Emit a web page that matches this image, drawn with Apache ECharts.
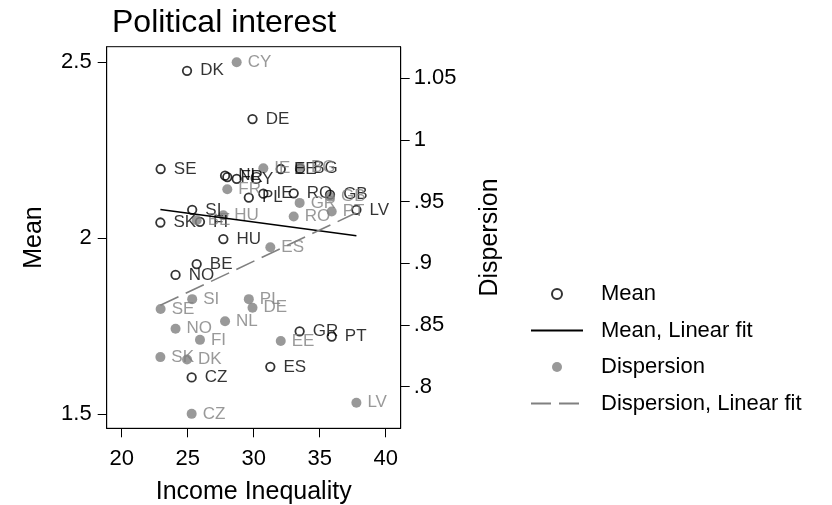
<!DOCTYPE html>
<html>
<head>
<meta charset="utf-8">
<script src="https://cdn.jsdelivr.net/npm/echarts@6/dist/echarts.min.js"></script>
<style>html,body{margin:0;padding:0;background:#fff}#c{width:832px;height:505px}</style>
</head>
<body>
<div id="c"></div>
<script>
// ---- data ----
var countries = ['BE','BG','CY','CZ','DE','DK','EE','ES','FI','FR','GB','GR','HU','IE','LV','NL','NO','PL','PT','RO','SE','SI','SK'];
var incomeInequality = [25.68,33.51,28.71,25.30,29.91,24.95,32.05,31.26,25.93,28.00,35.78,33.48,27.70,30.73,37.78,27.83,24.08,29.63,35.91,33.03,22.95,25.34,22.93];
var meanValues = [1.926,2.197,2.168,1.604,2.338,2.475,2.196,1.634,2.046,2.173,2.123,1.735,1.997,2.126,2.080,2.177,1.895,2.115,1.720,2.127,2.196,2.080,2.044];
var dispersionValues = [0.935,0.978,1.063,0.778,0.864,0.822,0.837,0.913,0.838,0.960,0.954,0.949,0.939,0.977,0.787,0.853,0.847,0.871,0.942,0.938,0.863,0.871,0.824];
// fitted lines (end points)
var meanFitX = [22.93, 37.78];
var meanFitY = [2.081, 2.0065];
var dispFitX = [22.93, 37.78];
var dispFitY = [0.866, 0.941];
var xTicks = [20, 25, 30, 35, 40];
var meanTicks = [1.5, 2, 2.5];
var dispTicks = [0.8, 0.85, 0.9, 0.95, 1, 1.05];
var dispTickLabels = ['.8', '.85', '.9', '.95', '1', '1.05'];

var FONT = "'Liberation Sans', Arial, sans-serif";
var GRAY = '#808080';

var meanData = countries.map(function (c, i) { return [incomeInequality[i], meanValues[i], c]; });
var dispData = countries.map(function (c, i) { return [incomeInequality[i], dispersionValues[i], c]; });
var meanFit = meanFitX.map(function (x, i) { return [x, meanFitY[i]]; });
var dispFit = dispFitX.map(function (x, i) { return [x, dispFitY[i]]; });

var chart = echarts.init(document.getElementById('c'), null, { renderer: 'canvas' });
chart.setOption({
  animation: false,
  backgroundColor: '#fff',
  textStyle: { fontFamily: FONT },
  title: {
    text: 'Political interest',
    left: 107, top: 2,
    textStyle: { fontFamily: FONT, fontSize: 32, fontWeight: 'normal', color: '#000' }
  },
  grid: {
    left: 106.7, right: 431.3, top: 46.7, bottom: 76.7,
    containLabel: false, outerBoundsMode: 'none',
    show: true, borderColor: '#000', borderWidth: 1, backgroundColor: 'transparent'
  },
  legend: {
    orient: 'vertical',
    left: 530, top: 283, padding: 0,
    itemWidth: 52, itemHeight: 10, itemGap: 14.5,
    textStyle: { fontFamily: FONT, fontSize: 22, color: '#000', padding: [0, 0, 0, 13] },
    data: [
      { name: 'Mean' },
      { name: 'Mean, Linear fit', itemStyle: { color: 'rgba(0,0,0,0)', borderWidth: 0, opacity: 0 } },
      { name: 'Dispersion' },
      { name: 'Dispersion, Linear fit', itemStyle: { color: 'rgba(0,0,0,0)', borderWidth: 0, opacity: 0 } }
    ]
  },
  xAxis: {
    type: 'value', min: 18.864, max: 41.136,
    name: 'Income Inequality', nameLocation: 'middle', nameGap: 51,
    nameTextStyle: { fontFamily: FONT, fontSize: 25, color: '#000' },
    axisLine: { show: true, lineStyle: { color: '#000', width: 1 } },
    axisTick: { show: true, length: 9, customValues: xTicks, lineStyle: { color: '#000' } },
    axisLabel: { customValues: xTicks, fontFamily: FONT, fontSize: 22, color: '#000', margin: 20 },
    splitLine: { show: false }
  },
  yAxis: [{
    type: 'value', position: 'left', min: 1.4594, max: 2.5435,
    name: 'Mean', nameLocation: 'middle', nameGap: 60, nameRotate: 90,
    nameTextStyle: { fontFamily: FONT, fontSize: 25, color: '#000' },
    axisLine: { show: true, lineStyle: { color: '#000', width: 1 } },
    axisTick: { show: true, length: 9, customValues: meanTicks, lineStyle: { color: '#000' } },
    axisLabel: { customValues: meanTicks, fontFamily: FONT, fontSize: 22, color: '#000', margin: 15 },
    splitLine: { show: false }
  }, {
    type: 'value', position: 'right', min: 0.7663, max: 1.0756,
    name: 'Dispersion', nameLocation: 'middle', nameGap: 77, nameRotate: 90,
    nameTextStyle: { fontFamily: FONT, fontSize: 25, color: '#000' },
    axisLine: { show: true, lineStyle: { color: '#000', width: 1 } },
    axisTick: { show: true, length: 9, customValues: dispTicks, lineStyle: { color: '#000' } },
    axisLabel: {
      customValues: dispTicks, fontFamily: FONT, fontSize: 22, color: '#000', margin: 13,
      formatter: function (v) {
        for (var i = 0; i < dispTicks.length; i++) { if (Math.abs(dispTicks[i] - v) < 1e-6) return dispTickLabels[i]; }
        return '';
      }
    },
    splitLine: { show: false }
  }],
  series: [{
    name: 'Mean', type: 'scatter', yAxisIndex: 0,
    data: meanData, symbol: 'circle', symbolSize: 8.5,
    itemStyle: { color: 'rgba(255,255,255,0)', borderColor: '#000', borderWidth: 1.8 },
    label: { show: true, position: 'right', distance: 8, formatter: function (p) { return p.value[2]; },
             fontFamily: FONT, fontSize: 17, color: '#000' },
    emphasis: { disabled: true }
  }, {
    name: 'Mean, Linear fit', type: 'line', yAxisIndex: 0,
    data: meanFit, showSymbol: false, symbol: 'none',
    lineStyle: { color: '#000', width: 1.6, type: 'solid' },
    itemStyle: { color: '#000' }
  }, {
    name: 'Dispersion', type: 'scatter', yAxisIndex: 1,
    data: dispData, symbol: 'circle', symbolSize: 10,
    itemStyle: { color: GRAY },
    label: { show: true, position: 'right', distance: 6, formatter: function (p) { return p.value[2]; },
             fontFamily: FONT, fontSize: 17, color: GRAY },
    emphasis: { disabled: true }
  }, {
    name: 'Dispersion, Linear fit', type: 'line', yAxisIndex: 1,
    data: dispFit, showSymbol: false, symbol: 'none',
    lineStyle: { color: GRAY, width: 1.6, type: [20, 8] },
    itemStyle: { color: GRAY }
  }]
});
</script>
</body>
</html>
